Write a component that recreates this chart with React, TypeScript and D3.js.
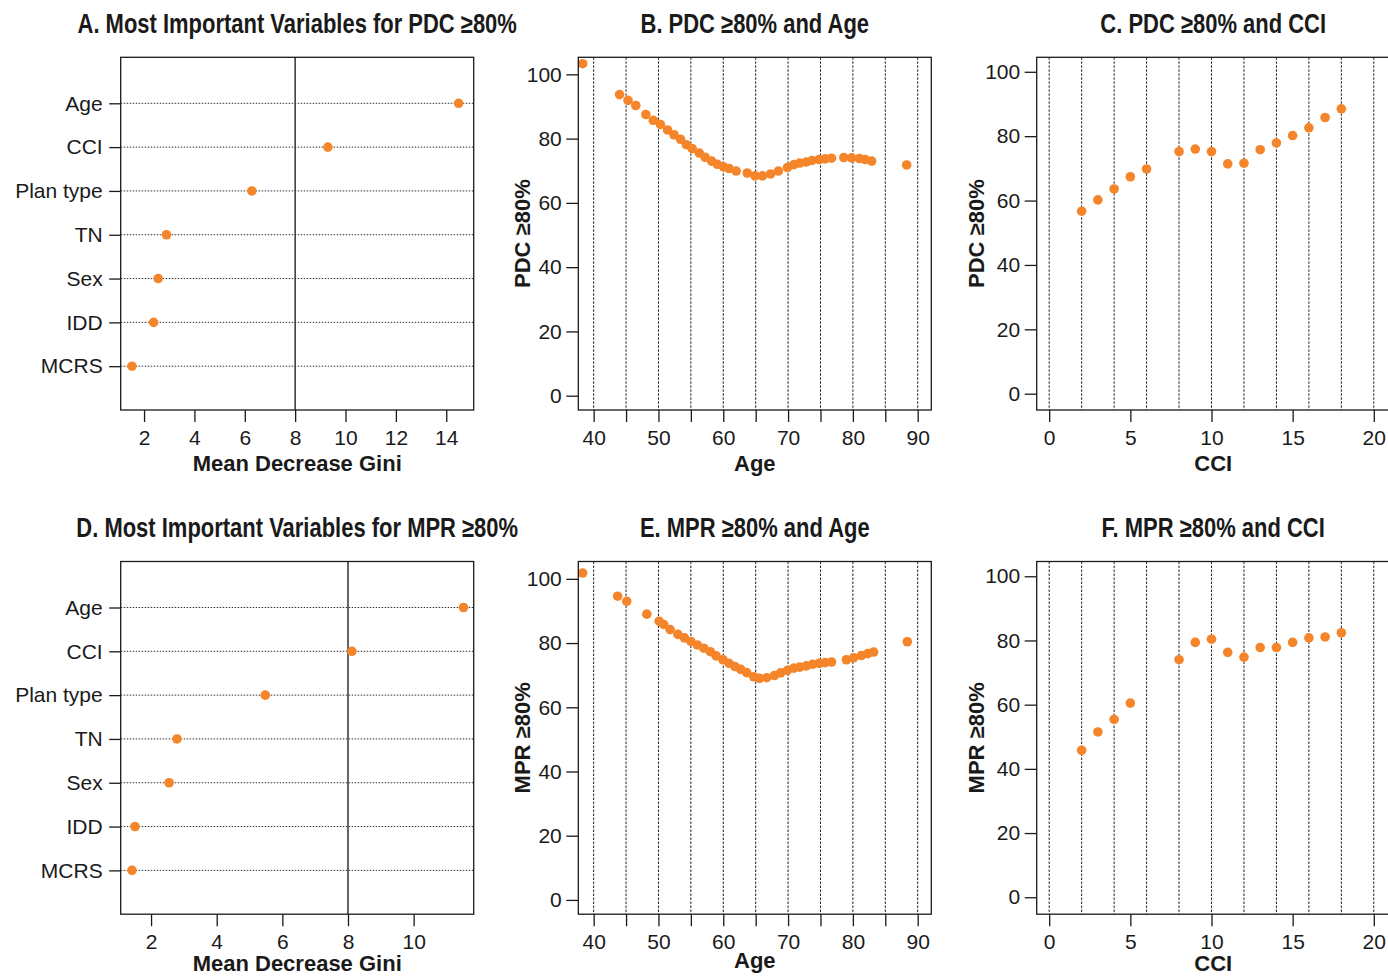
import React, { useEffect, useRef } from "react";
import * as d3 from "d3";

// variable importance (mean decrease Gini)
const variables = ["Age", "CCI", "Plan type", "TN", "Sex", "IDD", "MCRS"];
const giniPDC = [14.49, 9.3, 6.28, 2.89, 2.56, 2.38, 1.52];
const giniMPR = [11.52, 8.12, 5.48, 2.79, 2.55, 1.51, 1.42];
const giniTicksPDC = [2, 4, 6, 8, 10, 12, 14];
const giniTicksMPR = [2, 4, 6, 8, 10];

// partial dependence on age
const agePDC = [
  38.3, 44, 45.3, 46.5, 48.05, 49.2, 50.3, 51.4, 52.4, 53.4, 54.3, 55.2, 56.3,
  57.2, 58.2, 59.1, 60.05, 60.9, 62, 63.7, 64.9, 66.05, 67.3, 68.5, 69.9, 70.9,
  71.8, 72.8, 73.7, 74.8, 75.7, 76.7, 78.6, 79.8, 81, 81.9, 82.9, 88.3,
];
const pdcByAge = [
  103.3, 93.7, 91.9, 90.3, 87.5, 85.7, 84.4, 82.7, 81.2, 79.8, 78.1, 76.9, 75.5,
  74.2, 73.0, 72.0, 71.2, 70.7, 69.9, 69.3, 68.4, 68.4, 69.0, 69.9, 71.0, 71.9,
  72.4, 72.7, 73.2, 73.5, 73.7, 73.9, 74.1, 74.0, 73.8, 73.5, 73.0, 71.8,
];
const ageMPR = [
  38.3, 43.7, 45.1, 48.2, 50.1, 50.8, 51.8, 53, 54, 55, 56, 57, 58, 58.9,
  59.95, 60.9, 61.8, 62.7, 63.6, 64.7, 65.6, 66.7, 67.9, 68.85, 69.9, 70.9,
  71.8, 72.8, 73.8, 74.8, 75.7, 76.7, 79, 80.1, 81.3, 82.3, 83.2, 88.4,
];
const mprByAge = [
  101.8, 94.6, 93.0, 89.0, 86.8, 85.8, 84.2, 82.7, 81.6, 80.5, 79.4, 78.4,
  77.3, 76.0, 74.8, 73.7, 72.7, 71.8, 70.8, 69.5, 69.0, 69.2, 69.9, 70.7, 71.5,
  72.2, 72.5, 72.9, 73.4, 73.7, 73.9, 74.1, 74.8, 75.4, 76.1, 76.7, 77.2, 80.4,
];

// partial dependence on CCI
const cciPDC = [2, 3, 4, 5, 6, 8, 9, 10, 11, 12, 13, 14, 15, 16, 17, 18];
const pdcByCCI = [
  56.7, 60.2, 63.6, 67.4, 69.8, 75.2, 76.0, 75.2, 71.4, 71.6, 75.8, 77.9, 80.2,
  82.6, 85.8, 88.5,
];
const cciMPR = [2, 3, 4, 5, 8, 9, 10, 11, 12, 13, 14, 15, 16, 17, 18];
const mprByCCI = [
  45.8, 51.5, 55.4, 60.5, 74.0, 79.4, 80.4, 76.3, 74.8, 77.8, 77.8, 79.4, 80.8,
  81.1, 82.4,
];

const pctTicks = [0, 20, 40, 60, 80, 100];
const ageGrid = [40, 45, 50, 55, 60, 65, 70, 75, 80, 85, 90];
const cciGrid = [0, 2, 4, 6, 8, 10, 12, 14, 16, 18, 20];
const cciTicks = [0, 5, 10, 15, 20];

const ORANGE = "#f5852a";
const INK = "#1a1a1a";
const FONT = "'Liberation Sans', Arial, Helvetica, sans-serif";
const W = 353;
const H = 352.7;

function styleAxis(g, size) {
  g.select(".domain").remove();
  g.selectAll("line").attr("stroke", INK).attr("stroke-width", 1.3);
  g.selectAll("text")
    .attr("fill", INK)
    .style("font-family", FONT)
    .style("font-size", size + "px");
}

// titles in the original are a condensed bold face; squeeze a bold sans horizontally
function panelTitle(svg, cx, y, text) {
  svg
    .append("text")
    .attr("transform", `translate(${cx},${y}) scale(0.82,1)`)
    .attr("text-anchor", "middle")
    .style("font-family", FONT)
    .style("font-weight", "bold")
    .style("font-size", "26.8px")
    .attr("fill", INK)
    .text(text);
}

function importancePanel(svg, left, top, title, values, domain, ticks, titleGap) {
  const g = svg.append("g");
  const x = d3.scaleLinear().domain(domain).range([left, left + W]);
  const y = d3.scaleLinear().domain([0, 8.05]).range([top + H, top]);
  const rowY = (i) => y(variables.length - i);

  g.selectAll(".guide")
    .data(variables)
    .join("line")
    .attr("x1", left)
    .attr("x2", left + W)
    .attr("y1", (d, i) => rowY(i))
    .attr("y2", (d, i) => rowY(i))
    .attr("stroke", "#333")
    .attr("stroke-width", 1)
    .attr("stroke-dasharray", "1.5,1.5");

  g.append("line")
    .attr("x1", x(8))
    .attr("x2", x(8))
    .attr("y1", top)
    .attr("y2", top + H)
    .attr("stroke", "#333")
    .attr("stroke-width", 1.5);

  g.selectAll(".dot")
    .data(values)
    .join("circle")
    .attr("cx", (d) => x(d))
    .attr("cy", (d, i) => rowY(i))
    .attr("r", 4.8)
    .attr("fill", ORANGE);

  const xAxis = g
    .append("g")
    .attr("transform", `translate(0,${top + H})`)
    .call(d3.axisBottom(x).tickValues(ticks).tickSize(12).tickPadding(8));
  styleAxis(xAxis, 21);

  const rows = variables.map((d, i) => variables.length - i);
  const yAxis = g
    .append("g")
    .attr("transform", `translate(${left},0)`)
    .call(
      d3
        .axisLeft(y)
        .tickValues(rows)
        .tickFormat((v) => variables[variables.length - v])
        .tickSize(11.5)
        .tickPadding(6.5)
    );
  styleAxis(yAxis, 21);

  g.append("rect")
    .attr("x", left)
    .attr("y", top)
    .attr("width", W)
    .attr("height", H)
    .attr("fill", "none")
    .attr("stroke", INK)
    .attr("stroke-width", 1.3);

  g.append("text")
    .attr("x", left + W / 2)
    .attr("y", top + H + titleGap)
    .attr("text-anchor", "middle")
    .style("font-family", FONT)
    .style("font-weight", "bold")
    .style("font-size", "22px")
    .attr("fill", INK)
    .text("Mean Decrease Gini");

  panelTitle(svg, left + W / 2, top - 24.3, title);
}

function scatterPanel(svg, opts) {
  const { left, top, title, xs, ys, xDomain, yDomain, grid, ticks, labelEvery, xTitle, yTitle, yTitleGap, titleGap } = opts;
  const g = svg.append("g");
  const x = d3.scaleLinear().domain(xDomain).range([left, left + W]);
  const y = d3.scaleLinear().domain(yDomain).range([top + H, top]);

  g.selectAll(".grid")
    .data(grid)
    .join("line")
    .attr("x1", (d) => x(d))
    .attr("x2", (d) => x(d))
    .attr("y1", top)
    .attr("y2", top + H)
    .attr("stroke", "#222")
    .attr("stroke-width", 1)
    .attr("stroke-dasharray", "2.5,1.5");

  g.selectAll(".dot")
    .data(xs)
    .join("circle")
    .attr("cx", (d) => x(d))
    .attr("cy", (d, i) => y(ys[i]))
    .attr("r", 4.8)
    .attr("fill", ORANGE);

  const xAxis = g
    .append("g")
    .attr("transform", `translate(0,${top + H})`)
    .call(
      d3
        .axisBottom(x)
        .tickValues(ticks)
        .tickSize(12)
        .tickPadding(8)
        .tickFormat((d) => (d % labelEvery === 0 ? String(d) : ""))
    );
  styleAxis(xAxis, 21);

  const yAxis = g
    .append("g")
    .attr("transform", `translate(${left},0)`)
    .call(d3.axisLeft(y).tickValues(pctTicks).tickSize(12).tickPadding(4.5));
  styleAxis(yAxis, 21);

  g.append("rect")
    .attr("x", left)
    .attr("y", top)
    .attr("width", W)
    .attr("height", H)
    .attr("fill", "none")
    .attr("stroke", INK)
    .attr("stroke-width", 1.3);

  g.append("text")
    .attr("x", left + W / 2)
    .attr("y", top + H + titleGap)
    .attr("text-anchor", "middle")
    .style("font-family", FONT)
    .style("font-weight", "bold")
    .style("font-size", "22px")
    .attr("fill", INK)
    .text(xTitle);

  g.append("text")
    .attr("transform", `translate(${left - yTitleGap},${top + H / 2}) rotate(-90)`)
    .attr("text-anchor", "middle")
    .style("font-family", FONT)
    .style("font-weight", "bold")
    .style("font-size", "22px")
    .attr("fill", INK)
    .text(yTitle);

  panelTitle(svg, left + W / 2, top - 24.3, title);
}

export default function App() {
  const svgRef = useRef(null);

  useEffect(() => {
    const svg = d3.select(svgRef.current);
    svg.selectAll("*").remove();
    svg.append("rect").attr("width", 1388).attr("height", 976).attr("fill", "#fff");

    const cols = [120.7, 578.3, 1036.7];
    const rows = [57.3, 561.5];
    // bottom-row axis titles are nudged up so they stay inside the page
    const gaps = [60.7, 56.3];

    importancePanel(svg, cols[0], rows[0], "A. Most Important Variables for PDC \u226580%", giniPDC, [1.073, 15.09], giniTicksPDC, gaps[0]);
    importancePanel(svg, cols[0], rows[1], "D. Most Important Variables for MPR \u226580%", giniMPR, [1.075, 11.83], giniTicksMPR, gaps[1]);

    scatterPanel(svg, {
      left: cols[1], top: rows[0], title: "B. PDC \u226580% and Age",
      xs: agePDC, ys: pdcByAge, xDomain: [37.63, 92.1], yDomain: [-4.45, 105.3],
      grid: ageGrid, ticks: ageGrid, labelEvery: 10, xTitle: "Age", yTitle: "PDC \u226580%", yTitleGap: 48, titleGap: gaps[0],
    });
    scatterPanel(svg, {
      left: cols[1], top: rows[1], title: "E. MPR \u226580% and Age",
      xs: ageMPR, ys: mprByAge, xDomain: [37.63, 92.1], yDomain: [-4.45, 105.4],
      grid: ageGrid, ticks: ageGrid, labelEvery: 10, xTitle: "Age", yTitle: "MPR \u226580%", yTitleGap: 48, titleGap: gaps[1] - 2.5,
    });
    scatterPanel(svg, {
      left: cols[2], top: rows[0], title: "C. PDC \u226580% and CCI",
      xs: cciPDC, ys: pdcByCCI, xDomain: [-0.77, 20.98], yDomain: [-5.06, 104.5],
      grid: cciGrid, ticks: cciTicks, labelEvery: 5, xTitle: "CCI", yTitle: "PDC \u226580%", yTitleGap: 53, titleGap: gaps[0],
    });
    scatterPanel(svg, {
      left: cols[2], top: rows[1], title: "F. MPR \u226580% and CCI",
      xs: cciMPR, ys: mprByCCI, xDomain: [-0.77, 20.98], yDomain: [-5.28, 104.6],
      grid: cciGrid, ticks: cciTicks, labelEvery: 5, xTitle: "CCI", yTitle: "MPR \u226580%", yTitleGap: 53, titleGap: gaps[1],
    });
  }, []);

  return (
    <svg
      ref={svgRef}
      width={1388}
      height={976}
      style={{ position: "absolute", left: 0, top: 0, display: "block" }}
    />
  );
}
